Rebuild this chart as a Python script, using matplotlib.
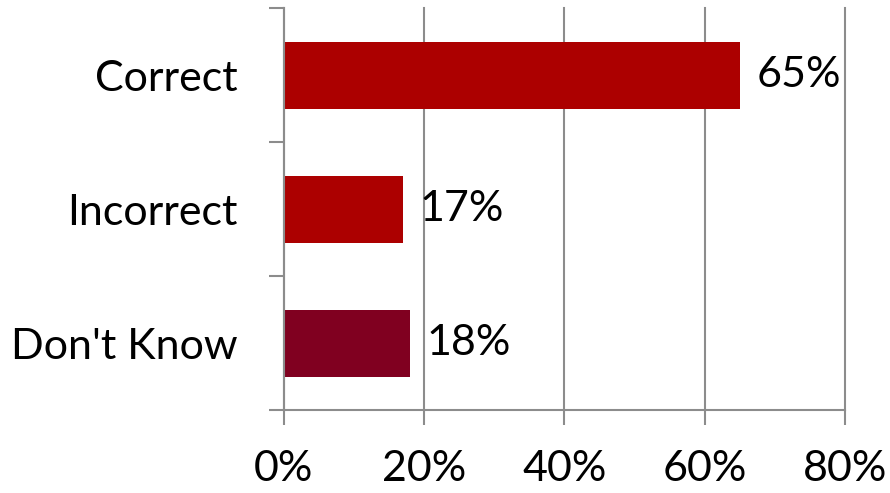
import matplotlib
matplotlib.use("Agg")
import matplotlib.pyplot as plt
from matplotlib.ticker import FixedLocator, FuncFormatter

categories = ["Correct", "Incorrect", "Don't Know"]
values = [65, 17, 18]
bar_colors = ["#AC0000", "#AC0000", "#800020"]
x_ticks = [0, 20, 40, 60, 80]

plt.rcParams['font.family'] = ['Lato', 'DejaVu Sans']

fig = plt.figure(figsize=(8.9, 4.93), dpi=100)
ax = fig.add_axes([283.5 / 890, 1 - 410 / 493, (845 - 283.5) / 890, (410 - 8) / 493])

ypos = list(range(len(categories)))
bars = ax.barh(ypos, values, height=0.5, color=bar_colors)

ax.set_xlim(0, 80)
ax.set_ylim(len(categories) - 0.5, -0.5)

axis_gray = "#8C8C8C"
for side in ["top", "right"]:
    ax.spines[side].set_visible(False)
for side in ["left", "bottom"]:
    ax.spines[side].set_color(axis_gray)
    ax.spines[side].set_linewidth(1.5)

# x axis: percent ticks with gridlines
ax.set_xticks(x_ticks)
ax.xaxis.set_major_formatter(FuncFormatter(lambda v, p: f"{v:.0f}%"))
ax.tick_params(axis="x", length=11, width=1.5, color=axis_gray, pad=18, labelsize=31)
ax.grid(axis="x", color=axis_gray, linewidth=1.5)
ax.set_axisbelow(True)
for line in ax.get_xgridlines():
    line.set_clip_on(False)

# y axis: labels at centres, ticks at band boundaries
ax.set_yticks(ypos)
ax.set_yticklabels(categories)
ax.yaxis.set_minor_locator(FixedLocator([i - 0.5 for i in range(len(categories) + 1)]))
ax.tick_params(axis="y", which="major", length=0, pad=33, labelsize=31)
ax.tick_params(axis="y", which="minor", length=11, width=1.5, color=axis_gray)

for b, v in zip(bars, values):
    ax.annotate(f"{v}%", (b.get_width(), b.get_y() + b.get_height() / 2),
                xytext=(12, 0), textcoords="offset points",
                va="center", ha="left", fontsize=31)

fig.savefig("out.png", dpi=100)
